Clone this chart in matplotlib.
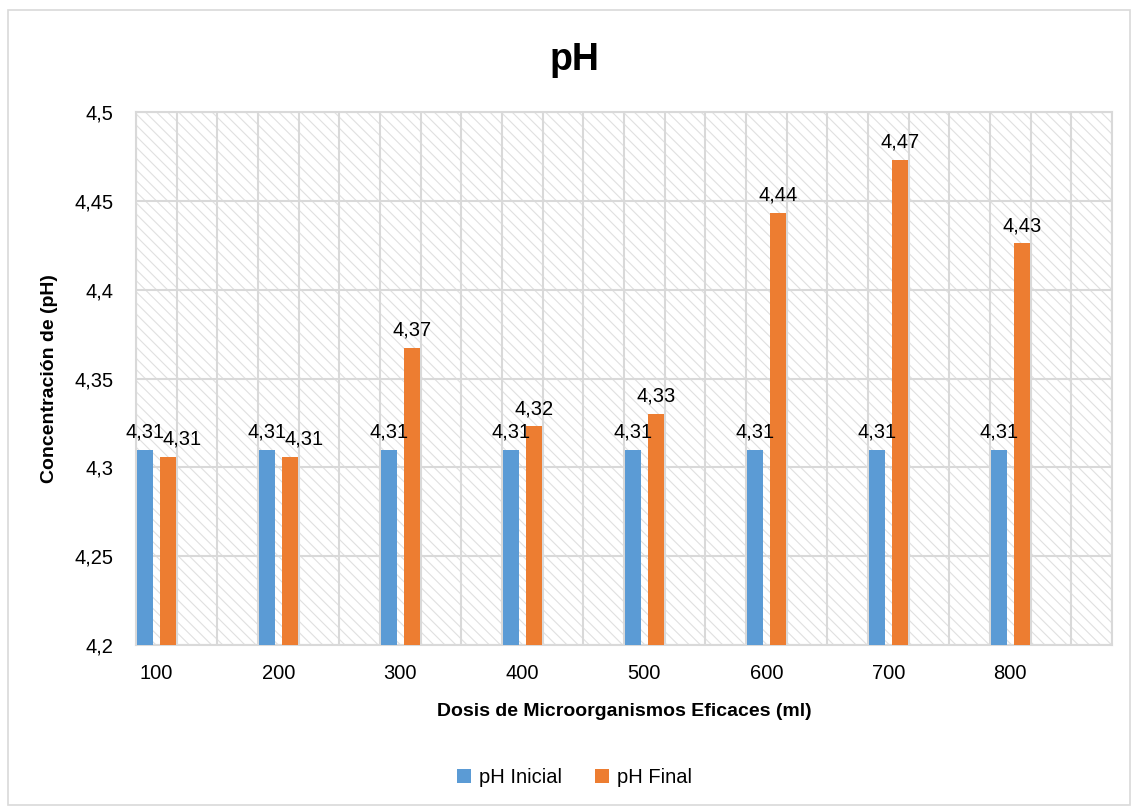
import numpy as np
import matplotlib.pyplot as plt
from matplotlib.patches import Rectangle

# 데이터
dosis = ['100', '200', '300', '400', '500', '600', '700', '800']
ph_inicial = [4.31, 4.31, 4.31, 4.31, 4.31, 4.31, 4.31, 4.31]
ph_final = [4.306, 4.306, 4.367, 4.323, 4.330, 4.443, 4.473, 4.426]

plt.rcParams['font.family'] = ['Liberation Sans', 'DejaVu Sans']
plt.rcParams['hatch.linewidth'] = 0.8

azul = '#5b9bd5'
naranja = '#ed7d31'
gris = '#d9d9d9'

fig = plt.figure(figsize=(11.31, 8.07), dpi=100)
ax = fig.add_axes([0.1202, 0.2007, 0.863, 0.6605])

# 배경 빗금
ax.add_patch(Rectangle((0, 0), 1, 1, transform=ax.transAxes, facecolor='white',
                       edgecolor='#e0e0e0', hatch='\\\\\\', lw=0, zorder=0))

x = np.arange(len(dosis))
w = 0.131
off = 0.095
b1 = ax.bar(x - off, ph_inicial, w, color=azul, label='pH Inicial', zorder=3)
b2 = ax.bar(x + off, ph_final, w, color=naranja, label='pH Final', zorder=3)

for r, v in zip(b1, ph_inicial):
    ax.annotate(f'{v:.2f}'.replace('.', ','), (r.get_x() + r.get_width() / 2, v),
                xytext=(0, 6), textcoords='offset points', ha='center', va='bottom',
                fontsize=14.5, zorder=4)
for r, v, vi in zip(b2, ph_final, ph_inicial):
    # 값이 겹칠 때 라벨을 오른쪽으로 살짝 이동
    dx = 10 if abs(v - vi) < 0.01 else 0
    ax.annotate(f'{v:.2f}'.replace('.', ','), (r.get_x() + r.get_width() / 2, v),
                xytext=(dx, 6), textcoords='offset points', ha='center', va='bottom',
                fontsize=14.5, zorder=4)

ax.set_xlim(-1 / 6, -1 / 6 + 24 / 3)
ax.set_ylim(4.2, 4.5)
ax.set_xticks(x)
ax.set_xticklabels(dosis, fontsize=14.5)
ax.set_xticks(-1 / 6 + np.arange(25) / 3, minor=True)
yt = np.arange(4.2, 4.5001, 0.05)
ax.set_yticks(yt)
ax.set_yticklabels([f'{v:.2f}'.rstrip('0').replace('.', ',') for v in yt], fontsize=14.5)
ax.tick_params(which='both', length=0)
ax.tick_params(axis='x', pad=14)
ax.tick_params(axis='y', pad=16)
ax.grid(which='minor', axis='x', color=gris, lw=1.5, zorder=1)
ax.grid(which='major', axis='y', color=gris, lw=1.5, zorder=1)
ax.set_axisbelow(True)
for s in ax.spines.values():
    s.set_color(gris)
    s.set_linewidth(1.5)

fig.text(0.508, 0.926, 'pH', fontsize=27, fontweight='bold', ha='center', va='center')
ax.set_xlabel('Dosis de Microorganismos Eficaces (ml)', fontsize=14, fontweight='bold', labelpad=14)
ax.set_ylabel('Concentración de (pH)', fontsize=14, fontweight='bold', labelpad=12)

fig.legend(handles=[b1, b2], loc='center', bbox_to_anchor=(0.508, 0.037), ncol=2,
           frameon=False, fontsize=14.5, handlelength=0.7, handleheight=0.7,
           handletextpad=0.4, columnspacing=1.6)

# 차트 테두리
fig.add_artist(Rectangle((8 / 1131, 2 / 807), 1 - 9 / 1131, 1 - 12 / 807, transform=fig.transFigure,
                         fill=False, edgecolor=gris, lw=1.2))

fig.savefig('out.png', dpi=100)
